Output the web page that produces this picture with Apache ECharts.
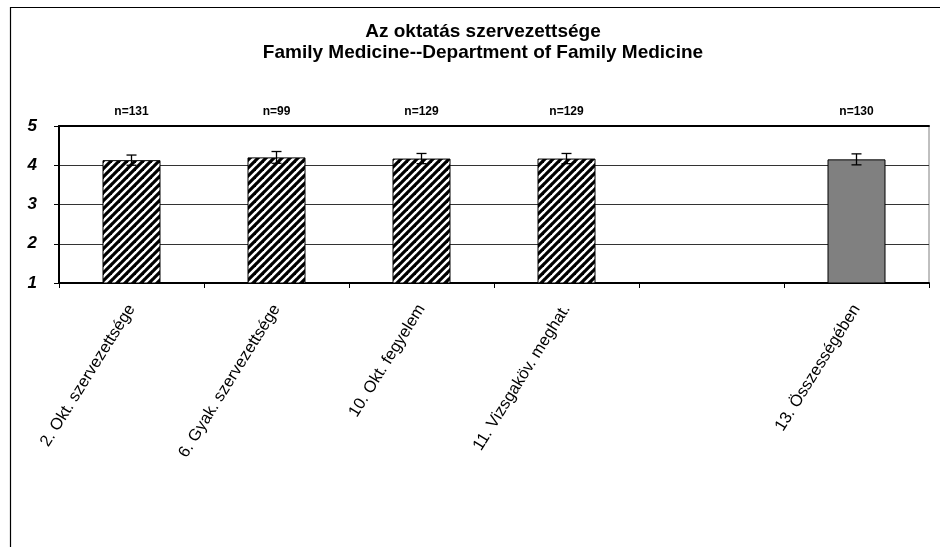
<!DOCTYPE html>
<html>
<head>
<meta charset="utf-8">
<script src="https://cdn.jsdelivr.net/npm/echarts@6/dist/echarts.min.js"></script>
<style>
html,body{margin:0;padding:0;background:#fff;}
#chart{width:940px;height:547px;}
</style>
</head>
<body>
<div id="chart"></div>
<script>
// ---- data ----
const titleLines = ['Az oktatás szervezettsége', 'Family Medicine--Department of Family Medicine'];
const categories = ['2. Okt. szervezettsége', '6. Gyak. szervezettsége', '10. Okt. fegyelem', '11. Vizsgaköv. meghat.', '', '13. Összességében'];
const nLabels = ['n=131', 'n=99', 'n=129', 'n=129', '', 'n=130'];
const means = [4.13, 4.20, 4.17, 4.17, null, 4.15];
const errors = [0.13, 0.15, 0.13, 0.13, null, 0.14];
const isSummary = [false, false, false, false, false, true];
const yTicks = [1, 2, 3, 4, 5];

// ---- hatch pattern ----
function makeHatch() {
  const c = document.createElement('canvas');
  c.width = 8; c.height = 8;
  const ctx = c.getContext('2d');
  ctx.fillStyle = '#fff';
  ctx.fillRect(0, 0, 8, 8);
  ctx.strokeStyle = '#000';
  ctx.lineWidth = 3.2;
  [0, 8, 16].forEach(function (k) {
    ctx.beginPath();
    ctx.moveTo(k - 10, 10);
    ctx.lineTo(k + 10, -10);
    ctx.stroke();
  });
  return c;
}
const hatch = { image: makeHatch(), repeat: 'repeat' };

const barData = means.map(function (v, i) {
  if (v === null) return '-';
  return {
    value: v,
    itemStyle: {
      color: isSummary[i] ? '#808080' : hatch,
      borderColor: '#000',
      borderWidth: 1
    }
  };
});
const errData = [];
means.forEach(function (v, i) {
  if (v !== null) errData.push([i, v, errors[i]]);
});

const FONT = 'Liberation Sans, Arial, sans-serif';
const chart = echarts.init(document.getElementById('chart'), null, { renderer: 'canvas' });
chart.setOption({
  animation: false,
  backgroundColor: '#fff',
  textStyle: { fontFamily: FONT },
  title: {
    text: titleLines.join('\n'),
    left: 478,
    top: 17,
    textAlign: 'center',
    textStyle: { fontSize: 19, fontWeight: 'bold', color: '#000', lineHeight: 20.5, fontFamily: FONT }
  },
  graphic: [{
    type: 'rect',
    silent: true,
    z: -10,
    shape: { x: 10.5, y: 7.5, width: 1000, height: 1000 },
    style: { fill: 'none', stroke: '#000', lineWidth: 1.2 }
  }],
  grid: {
    left: 59, right: 11, top: 126, bottom: 264,
    show: true, borderColor: '#808080', borderWidth: 1, backgroundColor: 'transparent'
  },
  xAxis: [{
    type: 'category',
    data: categories,
    position: 'bottom',
    axisLine: { lineStyle: { color: '#000', width: 2 } },
    axisTick: { show: true, length: 5, lineStyle: { color: '#000', width: 1 } },
    axisLabel: {
      rotate: 58, interval: 0, margin: 23,
      fontSize: 16.5, color: '#000', fontFamily: FONT
    },
    splitLine: { show: false }
  }, {
    type: 'category',
    data: nLabels,
    position: 'top',
    axisLine: { lineStyle: { color: '#000', width: 2 } },
    axisTick: { show: false },
    axisLabel: { interval: 0, margin: 8, fontSize: 12, fontWeight: 'bold', color: '#000', fontFamily: FONT }
  }],
  yAxis: {
    type: 'value',
    min: yTicks[0], max: yTicks[yTicks.length - 1], interval: 1,
    axisLine: { show: true, lineStyle: { color: '#000', width: 2 } },
    axisTick: { show: true, length: 5, lineStyle: { color: '#000', width: 1 } },
    axisLabel: {
      margin: 22, fontSize: 17, fontWeight: 'bold', fontStyle: 'italic', color: '#000',
      fontFamily: FONT
    },
    splitLine: { show: true, lineStyle: { color: '#333', width: 1 } }
  },
  series: [{
    type: 'bar',
    data: barData,
    barWidth: '40%',
    xAxisIndex: 0
  }, {
    type: 'custom',
    xAxisIndex: 0,
    data: errData,
    z: 10,
    renderItem: function (params, api) {
      const x = api.value(0), v = api.value(1), e = api.value(2);
      const top = api.coord([x, v + e]);
      const bot = api.coord([x, v - e]);
      const hw = 5;
      const st = { stroke: '#000', lineWidth: 1.3 };
      return {
        type: 'group',
        children: [
          { type: 'line', shape: { x1: top[0], y1: top[1], x2: bot[0], y2: bot[1] }, style: st },
          { type: 'line', shape: { x1: top[0] - hw, y1: top[1], x2: top[0] + hw, y2: top[1] }, style: st },
          { type: 'line', shape: { x1: bot[0] - hw, y1: bot[1], x2: bot[0] + hw, y2: bot[1] }, style: st }
        ]
      };
    }
  }]
});
</script>
</body>
</html>
